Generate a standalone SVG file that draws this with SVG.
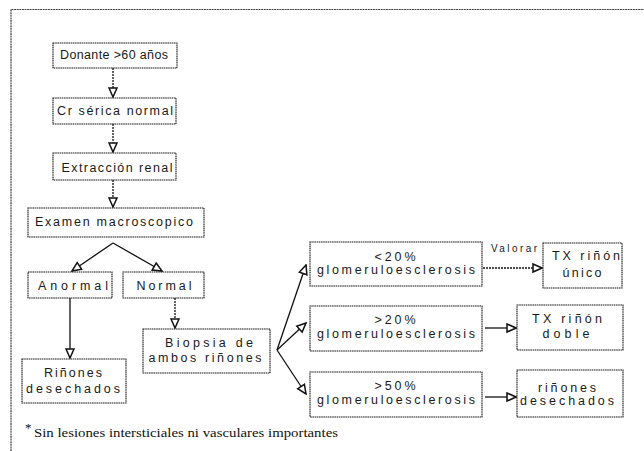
<svg xmlns="http://www.w3.org/2000/svg" width="644" height="451" viewBox="0 0 644 451">
<defs>
<marker id="ah" markerUnits="userSpaceOnUse" markerWidth="11" markerHeight="11" viewBox="0 0 11 11" refX="10" refY="5.5" orient="auto">
<path d="M1,1.5 L10,5.5 L1,9.5 z" fill="#fff" stroke="#111" stroke-width="1.5"/>
</marker>
</defs>
<style>
.box{fill:#fff;stroke:#1a1a1a;stroke-width:1.1;stroke-dasharray:1.6 0.6}
.t{font-family:"Liberation Sans",Arial,sans-serif;font-size:12.5px;fill:#1a1a1a;text-anchor:middle}
.c{fill:none;stroke:#111;stroke-width:1.3;marker-end:url(#ah)}
.d{stroke-dasharray:2 1}
.frame{fill:none;stroke:#444;stroke-width:1.2;stroke-dasharray:2 0.6}
.fn{font-family:"Liberation Serif","Times New Roman",serif;font-size:13px;fill:#111}
</style>
<rect width="644" height="451" fill="#fff"/>
<path class="frame" d="M11,451 L11,9.5 L644,9.5"/>

<g id="n-donante"><rect class="box" x="53" y="43" width="124" height="25"/><text class="t" x="114" y="59" textLength="108" lengthAdjust="spacing">Donante &gt;60 años</text></g>
<g id="n-cr"><rect class="box" x="53" y="98" width="123" height="26"/><text class="t" x="115" y="115" textLength="116" lengthAdjust="spacing">Cr sérica normal</text></g>
<g id="n-extraccion"><rect class="box" x="53" y="153" width="123" height="27"/><text class="t" x="117" y="172" textLength="111" lengthAdjust="spacing">Extracción renal</text></g>
<g id="n-examen"><rect class="box" x="28" y="208" width="176" height="29"/><text class="t" x="114" y="226" textLength="158" lengthAdjust="spacing">Examen macroscopico</text></g>
<g id="n-anormal"><rect class="box" x="28" y="272" width="84" height="26"/><text class="t" x="73" y="290" textLength="70" lengthAdjust="spacing">Anormal</text></g>
<g id="n-normal"><rect class="box" x="123" y="272" width="81" height="26"/><text class="t" x="164" y="290" textLength="55" lengthAdjust="spacing">Normal</text></g>
<g id="n-desechados1"><rect class="box" x="22" y="359" width="104" height="44"/><text class="t" x="73" y="377" textLength="58" lengthAdjust="spacing">Riñones</text><text class="t" x="73" y="393" textLength="94" lengthAdjust="spacing">desechados</text></g>
<g id="n-biopsia"><rect class="box" x="143" y="329" width="127" height="44"/><text class="t" x="209" y="347" textLength="88" lengthAdjust="spacing">Biopsia de</text><text class="t" x="205" y="362" textLength="113" lengthAdjust="spacing">ambos riñones</text></g>
<g id="n-lt20"><rect class="box" x="310" y="242" width="172" height="44"/><text class="t" x="395" y="261" textLength="41" lengthAdjust="spacing">&lt;20%</text><text class="t" x="396" y="274" textLength="158" lengthAdjust="spacing">glomeruloesclerosis</text></g>
<g id="n-gt20"><rect class="box" x="310" y="306" width="172" height="45"/><text class="t" x="395" y="324" textLength="41" lengthAdjust="spacing">&gt;20%</text><text class="t" x="396" y="338" textLength="158" lengthAdjust="spacing">glomeruloesclerosis</text></g>
<g id="n-gt50"><rect class="box" x="310" y="372" width="172" height="45"/><text class="t" x="395" y="390" textLength="41" lengthAdjust="spacing">&gt;50%</text><text class="t" x="396" y="404" textLength="158" lengthAdjust="spacing">glomeruloesclerosis</text></g>
<g id="n-unico"><rect class="box" x="543" y="243" width="79" height="45"/><text class="t" x="586" y="260" textLength="68" lengthAdjust="spacing">TX riñón</text><text class="t" x="582" y="277" textLength="39" lengthAdjust="spacing">único</text></g>
<g id="n-doble"><rect class="box" x="517" y="305" width="106" height="45"/><text class="t" x="567" y="323" textLength="70" lengthAdjust="spacing">TX riñón</text><text class="t" x="566" y="338" textLength="47" lengthAdjust="spacing">doble</text></g>
<g id="n-desechados2"><rect class="box" x="517" y="370" width="106" height="47"/><text class="t" x="567" y="392" textLength="58" lengthAdjust="spacing">riñones</text><text class="t" x="567" y="405" textLength="94" lengthAdjust="spacing">desechados</text></g>

<g id="connectors">
<path class="c d" d="M113,68 L113,97"/>
<path class="c d" d="M113,124 L113,152"/>
<path class="c d" d="M113,180 L113,207"/>
<path class="c" d="M113,243 L72,271"/>
<path class="c" d="M113,243 L162,271"/>
<path class="c" d="M70,298 L70,358"/>
<path class="c d" d="M175,298 L175,328"/>
<path class="c" d="M277,350 L306,265"/>
<path class="c" d="M277,350 L306,323"/>
<path class="c" d="M277,350 L306,394"/>
<path class="c d" d="M483,268 L542,268"/>
<path class="c" d="M485,328 L516,328"/>
<path class="c" d="M485,397 L516,397"/>
<text x="491" y="252" font-family="Liberation Sans,Arial,sans-serif" font-size="10" fill="#1a1a1a" textLength="46" lengthAdjust="spacing">Valorar</text>
</g>

<text class="fn" x="25" y="432" font-size="8">*</text>
<text class="fn" x="34" y="437" textLength="304" lengthAdjust="spacingAndGlyphs">Sin lesiones intersticiales ni vasculares importantes</text>
</svg>
